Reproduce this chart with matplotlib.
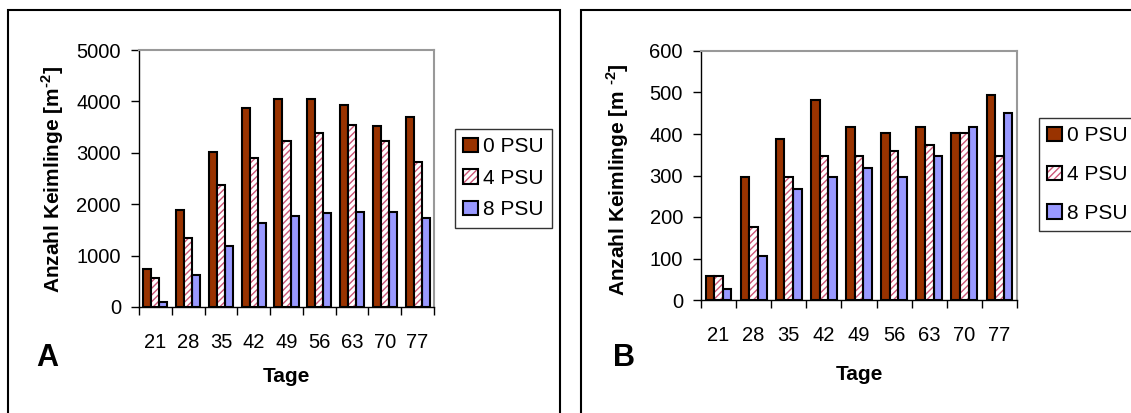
import matplotlib
matplotlib.use("Agg")
import matplotlib.pyplot as plt
import numpy as np
from matplotlib.patches import Rectangle, Patch

plt.rcParams['font.family'] = ['Liberation Sans', 'DejaVu Sans']
plt.rcParams['mathtext.fontset'] = 'custom'
plt.rcParams['mathtext.rm'] = 'Liberation Sans'
plt.rcParams['mathtext.bf'] = 'Liberation Sans:bold'
plt.rcParams['hatch.linewidth'] = 1.0

days = ["21", "28", "35", "42", "49", "56", "63", "70", "77"]
series = ["0 PSU", "4 PSU", "8 PSU"]

a_0psu = [740, 1880, 3020, 3870, 4040, 4040, 3925, 3520, 3700]
a_4psu = [570, 1340, 2370, 2900, 3230, 3390, 3540, 3220, 2830]
a_8psu = [100, 630, 1190, 1630, 1770, 1830, 1850, 1850, 1730]

b_0psu = [57, 297, 389, 481, 417, 403, 417, 403, 494]
b_4psu = [57, 176, 297, 346, 346, 360, 374, 403, 346]
b_8psu = [27, 105, 268, 297, 317, 297, 346, 417, 451]

RED = '#993300'
BLUE = '#9999FF'
HATCHC = '#CC5577'

W, H = 1131, 413
fig = plt.figure(figsize=(W / 100, H / 100), dpi=100)


def fax(l, t, r, b):
    return [l / W, 1 - b / H, (r - l) / W, (b - t) / H]


def draw_panel(rect, vals, ymax, yticks, ylabel, letter, lab_pos, letter_pos, tage_pos,
               leg_rect, legspacing, xpad):
    ax = fig.add_axes(fax(*rect))
    x = np.arange(len(days))
    bw = 0.245
    ax.bar(x - bw, vals[0], bw, color=RED, edgecolor='black', linewidth=1.5, zorder=3)
    ax.bar(x, vals[1], bw, color='white', edgecolor=HATCHC, hatch='/////', linewidth=0, zorder=3)
    ax.bar(x, vals[1], bw, fill=False, edgecolor='black', linewidth=1.5, zorder=4)
    ax.bar(x + bw, vals[2], bw, color=BLUE, edgecolor='black', linewidth=1.5, zorder=3)
    ax.set_xlim(-0.5, len(days) - 0.5)
    ax.set_ylim(0, ymax)
    ax.set_yticks(yticks)
    ax.set_yticklabels([str(v) for v in yticks], fontsize=14.5)
    ax.set_xticks(np.arange(len(days) + 1) - 0.5)
    ax.set_xticklabels([])
    ax.set_xticks(x, minor=True)
    ax.set_xticklabels(days, minor=True, fontsize=14.5)
    ax.tick_params(axis='x', which='major', length=6, width=1, direction='out')
    ax.tick_params(axis='x', which='minor', length=0, pad=xpad)
    ax.tick_params(axis='y', length=6, width=1, direction='out', pad=7)
    for s in ['top', 'right']:
        ax.spines[s].set_color('#999999')
        ax.spines[s].set_linewidth(1.5)
    for s in ['left', 'bottom']:
        ax.spines[s].set_color('black')
        ax.spines[s].set_linewidth(1.0)
    fig.text(lab_pos[0] / W, 1 - lab_pos[1] / H, ylabel, rotation=90, ha='center', va='center',
             fontsize=15, fontweight='bold')
    fig.text(letter_pos[0] / W, 1 - letter_pos[1] / H, letter, ha='left', va='center',
             fontsize=22, fontweight='bold')
    fig.text(tage_pos[0] / W, 1 - tage_pos[1] / H, 'Tage', ha='center', va='center',
             fontsize=15, fontweight='bold')
    handles = [Patch(facecolor=RED, edgecolor='black', linewidth=1.5),
               Patch(facecolor='white', edgecolor=HATCHC, hatch='/////', linewidth=0),
               Patch(facecolor=BLUE, edgecolor='black', linewidth=1.5)]
    h2 = Patch(fill=False, edgecolor='black', linewidth=1.5)
    leg = fig.legend([handles[0], (handles[1], h2), handles[2]], series,
                     loc='upper left', bbox_to_anchor=(leg_rect[0] / W, 1 - leg_rect[1] / H),
                     fontsize=15, frameon=True, fancybox=False, edgecolor='black',
                     handlelength=0.7, handleheight=0.7, handletextpad=0.25,
                     labelspacing=legspacing, borderpad=0.4, borderaxespad=0)
    leg.get_frame().set_linewidth(1.0)
    return ax


draw_panel((139, 50, 434, 307), [a_0psu, a_4psu, a_8psu], 5000, [0, 1000, 2000, 3000, 4000, 5000],
           'Anzahl Keimlinge [m$^{\\mathbf{\u20102}}$]', 'A', (53, 180), (36, 358), (286, 377),
           (455, 129), 0.6, 19)
draw_panel((701, 51, 1017, 300), [b_0psu, b_4psu, b_8psu], 600, [0, 100, 200, 300, 400, 500, 600],
           'Anzahl Keimlinge [m $^{\\mathbf{\u20102}}$]', 'B', (618, 180), (613, 358), (859, 374),
           (1039, 118), 0.95, 19)

# panel frames
fig.add_artist(Rectangle((8 / W, -0.05), (560 - 8) / W, 1 - 10 / H + 0.05, transform=fig.transFigure,
                         fill=False, edgecolor='black', linewidth=1.5))
fig.add_artist(Rectangle((581 / W, -0.05), 1.2, 1 - 10 / H + 0.05, transform=fig.transFigure,
                         fill=False, edgecolor='black', linewidth=1.5))

fig.savefig('out.png', dpi=100)
